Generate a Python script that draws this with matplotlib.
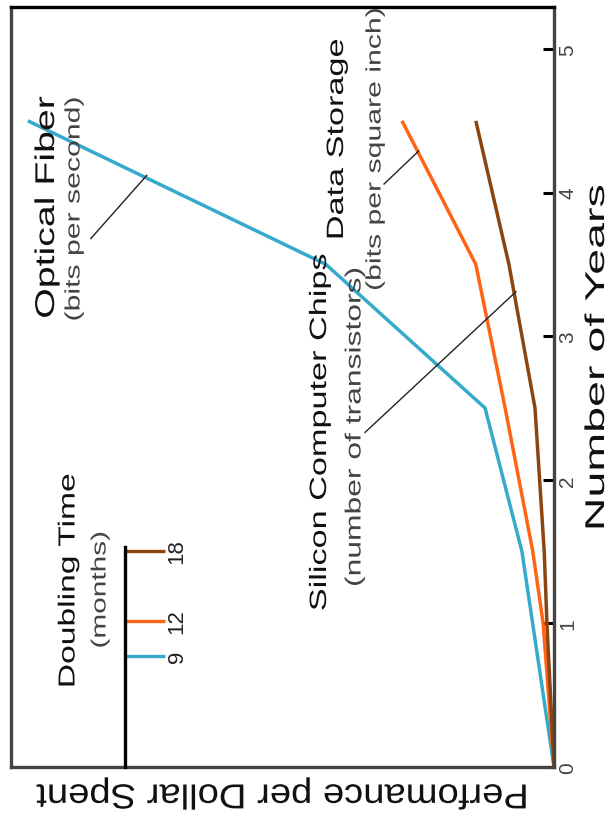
import matplotlib
matplotlib.use("Agg")
import matplotlib.pyplot as plt
from matplotlib.patheffects import AbstractPathEffect
from matplotlib.transforms import Affine2D

plt.rcParams['font.family'] = ['Liberation Sans', 'DejaVu Sans']

# Values: years vs. relative performance (100 = left edge)
anos_fibra = [0, 1.5, 2.5, 3.5, 4.5]
fibra = [0, 5.9, 12.7, 42.0, 96.9]
anos_armaz = [0, 1, 1.5, 2.5, 3.5, 4.5]
armazenamento = [0, 2.0, 3.9, 9.0, 14.4, 28.0]
anos_chips = [0, 1, 1.5, 2.5, 3.5, 4.5]
chips = [0, 1.3, 1.8, 3.5, 8.3, 14.4]

# Doubling time legend (months)
meses = [9, 12, 18]
cores = ['#35aacb', '#ff6414', '#8b4511']
anos_ticks = [0, 1, 2, 3, 4, 5]

# Leader lines (performance, year) from label to curve
guias = [
    [(85.3, 3.68), (75.0, 4.12)],
    [(31.3, 4.06), (24.9, 4.29)],
    [(34.8, 2.33), (7.0, 3.31)],
]

W, H = 609, 829


# The reference is stretched along its height, so the text is stretched the same way.
class Stretch(AbstractPathEffect):
    def __init__(self, sx=1.0, sy=1.0):
        super().__init__()
        self.sx, self.sy = sx, sy

    def draw_path(self, renderer, gc, tpath, affine, rgbFace=None):
        box = tpath.get_extents(affine)
        cx, cy = box.x0 + box.width / 2, box.y0 + box.height / 2
        extra = Affine2D().translate(-cx, -cy).scale(self.sx, self.sy).translate(cx, cy)
        renderer.draw_path(gc, tpath, affine + extra, rgbFace)


def px(x, y):
    return x / W, 1 - y / H


fig = plt.figure(figsize=(W / 100, H / 100), dpi=100)
ax = fig.add_axes([11 / W, 61 / H, 543 / W, 760.5 / H])

ax.plot(fibra, anos_fibra, color=cores[0], lw=2.5, solid_capstyle='butt')
ax.plot(armazenamento, anos_armaz, color=cores[1], lw=2.5, solid_capstyle='butt')
ax.plot(chips, anos_chips, color=cores[2], lw=2.5, solid_capstyle='butt')
for g in guias:
    ax.plot([g[0][0], g[1][0]], [g[0][1], g[1][1]], color='#222', lw=1.0)

ax.set_xlim(100, 0)
ax.set_ylim(0, 5.296)
ax.set_xticks([])
ax.yaxis.tick_right()
ax.set_yticks(anos_ticks)
ax.set_yticklabels([str(a) for a in anos_ticks], rotation=90, va='center', fontsize=15, color='#444')
ax.tick_params(axis='y', direction='in', length=8, width=2.2, color='#000', pad=3)

for lado in ['left', 'right', 'bottom']:
    ax.spines[lado].set_linewidth(2.4)
    ax.spines[lado].set_color('#444')
ax.spines['top'].set_linewidth(2.4)
ax.spines['top'].set_color('#000')

# Axis labels
ax.set_xlabel("Perfomance per Dollar Spent", rotation=180, fontsize=25, color='#111',
              ha='center', va='center')
ax.xaxis.set_label_coords((282 - 11) / 543, (768 - 795) / 760.5)
ax.xaxis.label.set_path_effects([Stretch(1.1, 1)])
ax.yaxis.set_label_position('right')
ax.set_ylabel("Number of Years", rotation=90, fontsize=19.5, color='#111', ha='center', va='center')
ax.yaxis.set_label_coords((597 - 11) / 543, (768 - 358) / 760.5)
ax.yaxis.label.set_path_effects([Stretch(1, 1.72)])

# Curve labels
rotulos = [
    ("Optical Fiber", 47, 208, 19.5, '#111'),
    ("(bits per second)", 74, 210, 15.0, '#444'),
    ("Data Storage", 337, 140, 17.0, '#111'),
    ("(bits per square inch)", 375, 150, 15.0, '#444'),
    ("Silicon Computer Chips", 320, 433, 17.0, '#111'),
    ("(number of transistors)", 355, 428, 15.8, '#444'),
    ("Doubling Time", 68, 582, 16.7, '#111'),
    ("(months)", 100, 591, 14.8, '#444'),
]
for s, x, y, tam, cor in rotulos:
    fx, fy = px(x, y)
    t = fig.text(fx, fy, s, rotation=90, ha='center', va='center', fontsize=tam, color=cor)
    t.set_path_effects([Stretch(1, 1.45)])

# Doubling time legend as a small axis of its own
leg = fig.add_axes([125 / W, 61 / H, 45 / W, 220 / H])
leg.set_facecolor('none')
leg.hlines(meses, 0.02, 40 / 45, colors=cores, lw=2.4)
leg.set_xlim(0, 1)
leg.set_ylim(-0.51, 18.34)
leg.set_xticks([])
leg.set_yticks([])
for lado in ['right', 'top', 'bottom']:
    leg.spines[lado].set_visible(False)
leg.spines['left'].set_linewidth(2.4)
leg.spines['left'].set_color('#000')
for m in meses:
    leg.text(52 / 45, m, str(m), rotation=90, ha='center', va='center',
             fontsize=16, color='#222')

fig.savefig("out.png", dpi=100)
